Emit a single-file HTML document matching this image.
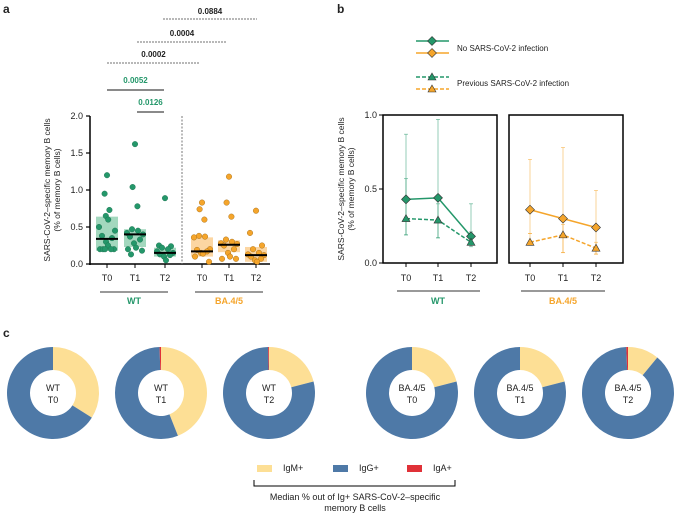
<!DOCTYPE html>
<html><head><meta charset="utf-8"><style>
html,body{margin:0;padding:0;background:#fff}
svg{display:block;font-family:"Liberation Sans",Arial,sans-serif}
</style></head><body>
<svg id="fig" width="675" height="516" viewBox="0 0 675 516" xmlns="http://www.w3.org/2000/svg"></svg>
<script>
// ---- Panel a data ----
const aGroups = ["WT T0","WT T1","WT T2","BA T0","BA T1","BA T2"];
const aWT0 = [1.2,0.95,0.73,0.65,0.6,0.5,0.45,0.38,0.35,0.3,0.25,0.2,0.2,0.2,0.2,0.2];
const aWT1 = [1.62,1.04,0.78,0.47,0.45,0.42,0.4,0.37,0.33,0.28,0.22,0.2,0.18,0.13];
const aWT2 = [0.89,0.25,0.24,0.22,0.2,0.17,0.15,0.13,0.12,0.1,0.05];
const aBA0 = [0.83,0.74,0.6,0.38,0.37,0.36,0.2,0.19,0.17,0.15,0.14,0.1,0.03];
const aBA1 = [1.18,0.83,0.64,0.33,0.3,0.28,0.27,0.25,0.2,0.15,0.1,0.07,0.07];
const aBA2 = [0.72,0.42,0.25,0.2,0.15,0.13,0.12,0.1,0.07,0.05,0.03];
const aBoxLo = [0.18,0.23,0.1,0.1,0.16,0.03];
const aBoxHi = [0.64,0.47,0.22,0.36,0.32,0.23];
const aMedian = [0.34,0.4,0.15,0.17,0.26,0.12];
const aTicks = [0,0.5,1.0,1.5,2.0];
const pLabels = ["0.0884","0.0004","0.0002","0.0052","0.0126"];
// ---- Panel b data ----
const bTimes = ["T0","T1","T2"];
const wtNo = [0.43,0.44,0.18], wtNoLo=[0.19,0.17,0.12], wtNoHi=[0.87,0.97,0.40];
const wtPrev = [0.30,0.29,0.14], wtPrevLo=[0.19,0.17,0.11], wtPrevHi=[0.57,0.40,0.21];
const baNo = [0.36,0.30,0.24], baNoLo=[0.20,0.07,0.06], baNoHi=[0.70,0.78,0.49];
const baPrev = [0.14,0.19,0.10], baPrevLo=[0.12,0.07,0.06], baPrevHi=[0.20,0.26,0.14];
const bTicks = [0,0.5,1.0];
// ---- Panel c data ----
const cLabels = [["WT","T0"],["WT","T1"],["WT","T2"],["BA.4/5","T0"],["BA.4/5","T1"],["BA.4/5","T2"]];
const cIgM = [0.34,0.44,0.21,0.21,0.21,0.11];
const cIgA = [0,0.005,0.003,0,0,0.006];

const G="#24976a", O="#f5a52b", GB="#a3d8be", OB="#fcd6a2";
const svg=document.getElementById('fig');
const NS="http://www.w3.org/2000/svg";
function el(tag,attrs,parent){const e=document.createElementNS(NS,tag);for(const k in attrs)e.setAttribute(k,attrs[k]);(parent||svg).appendChild(e);return e;}
function txt(x,y,s,attrs,parent){const t=el('text',Object.assign({x:x,y:y,'font-size':9,fill:'#222','text-anchor':'middle'},attrs||{}),parent);t.textContent=s;return t;}

// panel labels
let t=txt(3,13,"a",{'font-size':12,'font-weight':'bold','text-anchor':'start'});
t=txt(337,13,"b",{'font-size':12,'font-weight':'bold','text-anchor':'start'});
t=txt(3,337,"c",{'font-size':12,'font-weight':'bold','text-anchor':'start'});

// ===== Panel a =====
const ay=v=>264-v*74;
const aX=[107,135,165,202,229,256];
const aData=[aWT0,aWT1,aWT2,aBA0,aBA1,aBA2];
const gA=el('g',{});
el('line',{x1:90,y1:ay(2),x2:90,y2:265,stroke:'#000','stroke-width':1.5},gA);
el('line',{x1:89,y1:264,x2:270,y2:264,stroke:'#000','stroke-width':1.5},gA);
aTicks.forEach(v=>{el('line',{x1:86,y1:ay(v),x2:90,y2:ay(v),stroke:'#000','stroke-width':1.2},gA);
  const l=txt(83,ay(v)+3,v.toFixed(1),{'text-anchor':'end'},gA);});
el('line',{x1:182,y1:ay(2),x2:182,y2:264,stroke:'#777','stroke-dasharray':'2,1.5'},gA);
const jit=[0,-6,6,-3,3,-8,8,-5,5,-1,1,-7,7,-4,4,-2];
aData.forEach((arr,i)=>{
  const c=i<3?G:O, bc=i<3?GB:OB, x=aX[i];
  const b=el('rect',{x:x-11,y:ay(aBoxHi[i]),width:22,height:ay(aBoxLo[i])-ay(aBoxHi[i]),fill:bc},gA);
  
  arr.forEach((v,j)=>{const d=el('circle',{cx:x+jit[j%jit.length]*(v>0.5?0.4:1),cy:ay(v),r:2.8,fill:c,stroke:i<3?'#1d6e4e':'#9a6410','stroke-width':0.4},gA);
    });
  const m=el('line',{x1:x-11,y1:ay(aMedian[i]),x2:x+11,y2:ay(aMedian[i]),stroke:'#000','stroke-width':2},gA);
  
  el('line',{x1:x,y1:264,x2:x,y2:268,stroke:'#000'},gA);
  const l=txt(x,281,["T0","T1","T2"][i%3],{},gA);
});
el('line',{x1:100,y1:292,x2:168,y2:292,stroke:'#333'},gA);
el('line',{x1:195,y1:292,x2:263,y2:292,stroke:'#333'},gA);
t=txt(134,304,"WT",{fill:G,'font-weight':'bold'},gA);
t=txt(229,304,"BA.4/5",{fill:O,'font-weight':'bold'},gA);
t=txt(0,0,"SARS-CoV-2–specific memory B cells",{transform:'translate(50,190) rotate(-90)','font-size':8.5},gA);
t=txt(0,0,"(% of memory B cells)",{transform:'translate(60,190) rotate(-90)','font-size':8.5},gA);
// significance brackets
const sig=[[163,257,19,11,'#222',true],[137,227,42,33,'#222',true],[107,200,63,54,'#222',true],[107,164,90,80,G,false],[137,164,112,102,G,false]];
sig.forEach((s,i)=>{const ln=el('line',{x1:s[0],y1:s[2],x2:s[1],y2:s[2],stroke:s[5]?'#444':'#444','stroke-width':s[5]?0.8:1.2,'stroke-dasharray':s[5]?'2,1':'none'});
  
  const l=txt((s[0]+s[1])/2,s[3]+3,pLabels[i],{fill:s[4],'font-weight':'bold','font-size':8});});

// ===== Panel b =====
const by=v=>263-v*148;
function diamond(x,y,c,p,name){const d=el('path',{d:`M${x},${y-4.5}L${x+4.5},${y}L${x},${y+4.5}L${x-4.5},${y}Z`,fill:c,stroke:'#333','stroke-width':0.6},p);}
function tri(x,y,c,p,name){const d=el('path',{d:`M${x},${y-4}L${x+4},${y+3}L${x-4},${y+3}Z`,fill:c,stroke:'#333','stroke-width':0.6},p);}
function panelB(x0,x1,xs,no,noLo,noHi,pr,prLo,prHi,c,lab,name,axis){
  const g=el('g',{});
  el('rect',{x:x0,y:115,width:x1-x0,height:148,fill:'none',stroke:'#000','stroke-width':1.5},g);
  if(axis){bTicks.forEach(v=>{el('line',{x1:x0-4,y1:by(v),x2:x0,y2:by(v),stroke:'#000'},g);
    const l=txt(x0-6,by(v)+3,v.toFixed(1),{'text-anchor':'end'},g);});}
  [[noLo,noHi],[prLo,prHi]].forEach(([lo,hi])=>xs.forEach((x,i)=>{
    const e=el('line',{x1:x,y1:by(lo[i]),x2:x,y2:by(hi[i]),stroke:c,'stroke-width':0.8,opacity:0.6},g);
    el('line',{x1:x-2,y1:by(hi[i]),x2:x+2,y2:by(hi[i]),stroke:c,'stroke-width':0.8,opacity:0.6},g);
    el('line',{x1:x-2,y1:by(lo[i]),x2:x+2,y2:by(lo[i]),stroke:c,'stroke-width':0.8,opacity:0.6},g);}));
  let l=el('polyline',{points:xs.map((x,i)=>x+','+by(no[i])).join(' '),fill:'none',stroke:c,'stroke-width':1.5},g);
  l=el('polyline',{points:xs.map((x,i)=>x+','+by(pr[i])).join(' '),fill:'none',stroke:c,'stroke-width':1.5,'stroke-dasharray':'4,2'},g);
  xs.forEach((x,i)=>{diamond(x,by(no[i]),c,g,'no-infection-point');tri(x,by(pr[i]),c,g,'previous-infection-point');
    el('line',{x1:x,y1:263,x2:x,y2:267,stroke:'#000'},g);
    const tl=txt(x,281,bTimes[i],{},g);});
  el('line',{x1:xs[0]-9,y1:291,x2:xs[2]+9,y2:291,stroke:'#333'},g);
  const gl=txt(xs[1],304,lab,{fill:c,'font-weight':'bold'},g);
}
panelB(383,497,[406,438,471],wtNo,wtNoLo,wtNoHi,wtPrev,wtPrevLo,wtPrevHi,G,"WT","panel-b-wt",true);
panelB(509,623,[530,563,596],baNo,baNoLo,baNoHi,baPrev,baPrevLo,baPrevHi,O,"BA.4/5","panel-b-ba45",false);
t=txt(0,0,"SARS-CoV-2–specific memory B cells",{transform:'translate(344,189) rotate(-90)','font-size':8.5});
t=txt(0,0,"(% of memory B cells)",{transform:'translate(354,189) rotate(-90)','font-size':8.5});
// legend b
const lg=el('g',{});
[[41,G,false],[53,O,false],[77,G,true],[89,O,true]].forEach(r=>{
  el('line',{x1:416,y1:r[0],x2:449,y2:r[0],stroke:r[1],'stroke-width':1.5,'stroke-dasharray':r[2]?'4,2':'none'},lg);
  if(r[2])tri(432,r[0],r[1],lg,'legend-marker');else diamond(432,r[0],r[1],lg,'legend-marker');});
t=txt(457,51,"No SARS-CoV-2 infection",{'text-anchor':'start','font-size':8},lg);
t=txt(457,86,"Previous SARS-CoV-2 infection",{'text-anchor':'start','font-size':8},lg);

// ===== Panel c =====
const cX=[53,161,269,412,520,628], cY=393, R=46, r=23;
function arc(cx,cy,a0,a1,col,p,name){
  if(a1-a0<=0)return;
  const f=a=>[cx+R*Math.sin(a*2*Math.PI),cy-R*Math.cos(a*2*Math.PI)], g=a=>[cx+r*Math.sin(a*2*Math.PI),cy-r*Math.cos(a*2*Math.PI)];
  const lg=(a1-a0)>0.5?1:0;const p0=f(a0),p1=f(a1),q1=g(a1),q0=g(a0);
  const e=el('path',{d:`M${p0}A${R},${R} 0 ${lg} 1 ${p1}L${q1}A${r},${r} 0 ${lg} 0 ${q0}Z`,fill:col},p);
  }
cX.forEach((x,i)=>{
  const g=el('g',{});
  const m=cIgM[i],a=cIgA[i];
  arc(x,cY,0,m,'#fddf95',g,'igm-slice');
  arc(x,cY,m,1-a-0.00001,'#4e79a7',g,'igg-slice');
  if(a>0)arc(x,cY,1-a,0.99999,'#e03138',g,'iga-slice');
  const t1=txt(x,cY-2,cLabels[i][0],{},g);
  const t2=txt(x,cY+10,cLabels[i][1],{},g);
});
const cl=el('g',{});
[[257,'#fddf95','IgM+'],[333,'#4e79a7','IgG+'],[407,'#e03138','IgA+']].forEach(s=>{
  el('rect',{x:s[0],y:465,width:15,height:7,fill:s[1]},cl);
  const l=txt(s[0]+26,471,s[2],{'text-anchor':'start'},cl);});
el('path',{d:'M254,480V486H455V480',fill:'none',stroke:'#000','stroke-width':1},cl);
t=txt(355,500,"Median % out of Ig+ SARS-CoV-2–specific",{},cl);
t=txt(355,511,"memory B cells",{},cl);
</script>
</body></html>
